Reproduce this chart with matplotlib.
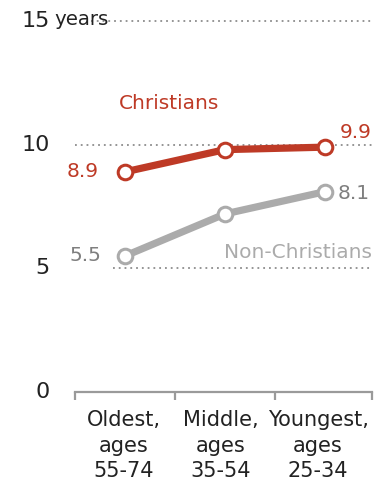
import matplotlib
matplotlib.use("Agg")
import matplotlib.pyplot as plt

categories = ["Oldest,\nages\n55-74", "Middle,\nages\n35-54", "Youngest,\nages\n25-34"]
christians = [8.9, 9.8, 9.9]
non_christians = [5.5, 7.2, 8.1]
yticks = [0, 5, 10, 15]

RED = "#BE3A26"
GREY_LINE = "#ABABAB"
GREY_LABEL = "#7F7F7F"
GRID = "#8C8C8C"

plt.rcParams['font.family'] = ['DejaVu Sans']

W, H = 381, 484
fig = plt.figure(figsize=(W / 100, H / 100), dpi=100)
ax = fig.add_axes([75 / W, 1 - 392 / H, (372 - 75) / W, (392 - 21) / H])
x = list(range(len(categories)))
ax.set_xlim(-0.5, 2.47)
ax.set_ylim(0, 15)

# gridlines
for yv, xs in [(5, -0.12), (10, -0.5), (15, -0.34)]:
    ax.plot([xs, 2.47], [yv, yv], color=GRID, lw=1.3, ls=(0, (1, 2.2)), zorder=1, clip_on=False)

for s in ["top", "right", "left"]:
    ax.spines[s].set_visible(False)
ax.spines["bottom"].set_color("#9A9A9A")
ax.spines["bottom"].set_linewidth(1.6)

ax.set_yticks([])
ax.set_xticks([-0.5, 0.5, 1.5, 2.47])
ax.set_xticklabels([])
ax.tick_params(axis="x", length=6, width=1.6, color="#9A9A9A", direction="out")
label_shift = [-0.01, -0.04, -0.07]
for xi, lab, sh in zip(x, categories, label_shift):
    ax.text(xi + sh, -0.72, lab, ha="center", va="top", fontsize=15, color="#222222",
            linespacing=1.36)

for yv in yticks:
    ax.text(-0.75, yv, str(yv), ha="right", va="center", fontsize=16, color="#222222", clip_on=False)
ax.text(-0.71, 15.05, "years", ha="left", va="center", fontsize=14.2, color="#222222", zorder=3)

ax.plot(x, non_christians, color=GREY_LINE, lw=5.2, solid_capstyle="butt", marker="o",
        markersize=10.5, markerfacecolor="white", markeredgecolor=GREY_LINE, markeredgewidth=2.2, zorder=4)
ax.plot(x, christians, color=RED, lw=5.2, solid_capstyle="butt", marker="o",
        markersize=10.5, markerfacecolor="white", markeredgecolor=RED, markeredgewidth=2.2, zorder=5)

ax.text(-0.26, christians[0], f"{christians[0]:.1f}", ha="right", va="center", fontsize=14.5, color=RED)
ax.text(2.47, christians[2] + 0.6, f"{christians[2]:.1f}", ha="right", va="center", fontsize=14.5, color=RED)
ax.text(-0.24, non_christians[0], f"{non_christians[0]:.1f}", ha="right", va="center", fontsize=14.5, color=GREY_LABEL)
ax.text(2.13, non_christians[2] - 0.08, f"{non_christians[2]:.1f}", ha="left", va="center", fontsize=14.5, color=GREY_LABEL)

ax.text(0.44, 11.65, "Christians", ha="center", va="center", fontsize=14.5, color=RED)
ax.text(2.47, 5.62, "Non-Christians", ha="right", va="center", fontsize=14.5, color=GREY_LINE)

fig.savefig("out.png", dpi=100)
